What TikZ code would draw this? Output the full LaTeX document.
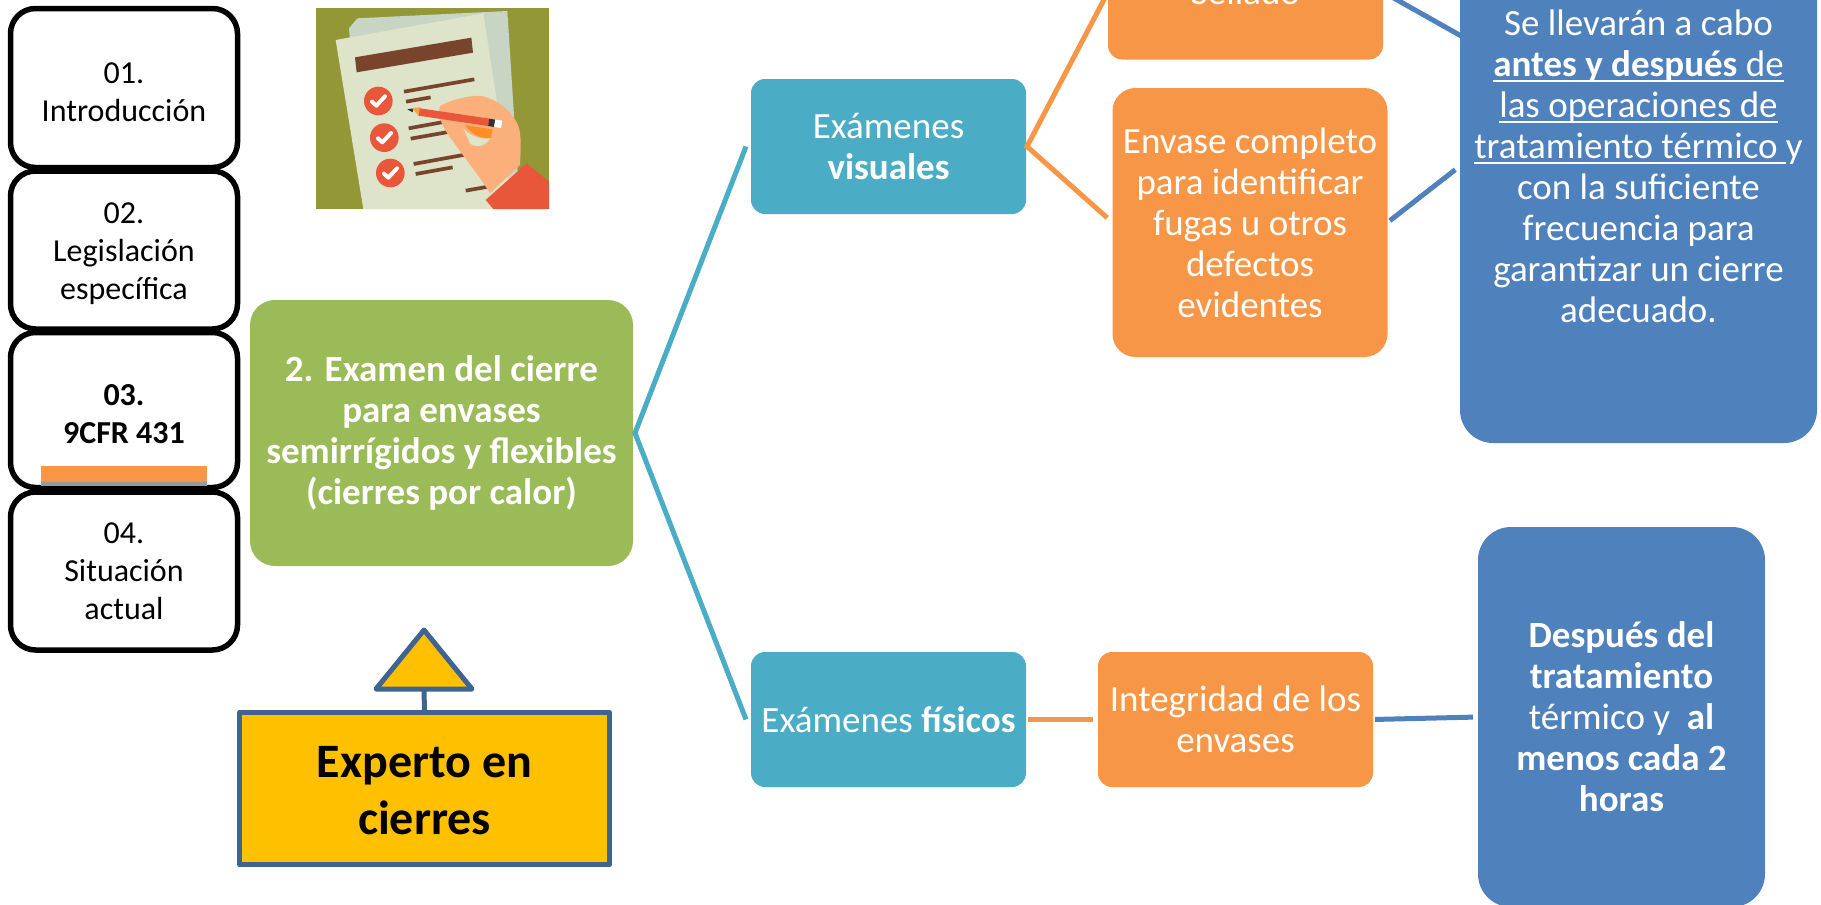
\documentclass[tikz,border=0pt]{standalone}
\usepackage{xcolor}
\usepackage{fontspec}
\setmainfont{Carlito}
\usetikzlibrary{positioning, shapes.geometric, shadows}

\definecolor{tealbox}{HTML}{4BACC6}
\definecolor{orangebox}{HTML}{F79646}
\definecolor{bluebox}{HTML}{4F81BD}
\definecolor{greenbox}{HTML}{9BBB59}
\definecolor{goldbox}{HTML}{FFC000}
\definecolor{steelline}{HTML}{3E6491}
\definecolor{olivebg}{HTML}{939736}
\definecolor{paperfront}{HTML}{DDE4CA}
\definecolor{paperback}{HTML}{C8D4C4}
\definecolor{inkbrown}{HTML}{78442B}
\definecolor{checkred}{HTML}{E9573A}
\definecolor{skintone}{HTML}{FBB07B}

\newcommand{\subrayado}[1]{\setbox0\hbox{#1}\rlap{\rule[-6pt]{\wd0}{1.8pt}}\box0}
\newcommand{\alto}[1]{\rule{0pt}{#1}}

\begin{document}
\begin{tikzpicture}[
  x=1pt, y=-1pt,
  menubox/.style={draw=black, line width=5.5pt, fill=white, rounded corners=25pt,
    minimum width=227pt, minimum height=158pt, align=center, inner sep=0pt,
    outer sep=0pt, font=\fontsize{32}{38}\selectfont},
  colorbox/.style={rounded corners=#1, align=center, inner sep=0pt, outer sep=0pt,
    text=white, font=\fontsize{37}{41}\selectfont},
  colorbox/.default=14pt,
  teal/.style={colorbox, fill=tealbox, minimum width=275pt, minimum height=135pt},
  orange/.style={colorbox, fill=orangebox, minimum width=275pt, minimum height=135pt},
  blue/.style={colorbox=33pt, fill=bluebox},
  tealarr/.style={draw=tealbox, line width=5pt},
  orangearr/.style={draw=orangebox, line width=5pt},
  bluearr/.style={draw=bluebox, line width=5pt},
  steel/.style={draw=steelline, line width=5pt, fill=goldbox, line join=round}
]
\useasboundingbox (0,0) rectangle (1821,905);
\clip (0,0) rectangle (1821,905);

% left menu
\node[menubox, minimum height=159pt] (intro) at (124,88) {\alto{29pt}01.\\Introducción};
\node[menubox, below=3.5pt of intro] (legis) {\alto{29pt}02.\\Legislación\\específica};
\node[menubox, below=3.5pt of legis, minimum height=155pt] (cfr)
  {\alto{29pt}\textbf{03.}\\\textbf{9CFR 431}};
\node[fill=orangebox, minimum width=166pt, minimum height=16pt, inner sep=0pt,
  drop shadow={shadow xshift=0pt, shadow yshift=-3.5pt, opacity=1, fill=black!40}]
  (marker) at (124,474) {};
\node[menubox, below=4.5pt of cfr] (actual) {04.\\Situación\\actual};

% checklist drawing
\begin{scope}[shift={(300,0)}, scale=1/3]
  \clip (48,24) rectangle (747,627);
  \fill[olivebg] (48,24) rectangle (747,627);
  \fill[paperback] (147,85) -- (172,55) -- (622,33) -- (660,627) -- (190,627) -- cycle;
  \fill[paperfront] (107,120) -- (550,40) -- (640,627) -- (190,627) -- cycle;
  \fill[inkbrown] (165,172) -- (514,113) -- (519,158) -- (170,217) -- cycle;
  \foreach \xa/\ya/\xb/\yb in {312/275/523/238, 318/305/392/292, 326/385/425/367,
      332/416/445/396, 341/492/495/464, 347/522/458/502, 497/572/570/559}
    \draw[inkbrown, line width=3.7pt] (\xa,\ya) -- (\xb,\yb);
  \foreach \cx/\cy in {235/303, 253/413, 271/519} {
    \fill[checkred] (\cx,\cy) circle (43);
    \draw[white, line width=4pt, line cap=round, line join=round]
      (\cx-19,\cy+2) -- (\cx-6,\cy+14) -- (\cx+20,\cy-14);
  }
  % hand and sleeve
  \fill[skintone] (420,318) .. controls (450,300) and (510,285) .. (545,288)
    .. controls (600,300) and (655,350) .. (660,400)
    .. controls (665,440) and (660,480) .. (660,495) -- (570,580)
    .. controls (540,530) and (490,470) .. (460,425)
    .. controls (435,395) and (410,350) .. (420,318) -- cycle;
  \fill[paperfront] (490,385) .. controls (520,420) and (570,420) .. (572,412)
    .. controls (560,440) and (525,445) .. (510,430) -- cycle;
  \fill[orange!70!skintone] (495,375) -- (578,388) -- (572,414) .. controls (540,415) and (515,405) .. (495,375) -- cycle;
  \fill[checkred] (557,600) -- (680,490) -- (747,545) -- (747,627) -- (580,627) -- cycle;
  % pencil
  \fill[black!80] (322,328) -- (340,325) -- (338,337) -- cycle;
  \fill[orange!40!skintone] (336,324) -- (362,322) -- (358,350) -- cycle;
  \draw[checkred, line width=7.5pt] (358,336) -- (566,367);
  \draw[black!80, line width=7.5pt] (566,367) -- (584,370);
  \draw[white, line width=7.5pt] (584,370) -- (605,373);
\end{scope}

% centre and right boxes
\node[colorbox=25pt, fill=greenbox, minimum width=383pt, minimum height=266pt,
  font=\fontsize{37}{41}\selectfont\bfseries] (examen) at (441.5,433)
  {2. Examen del cierre\\para envases\\semirrígidos y flexibles\\(cierres por calor)};
\node[teal] (visuales) at (888.5,146.5) {Exámenes\\\textbf{visuales}};
\node[teal] (fisicos) at (888.5,719.5) {Exámenes \textbf{físicos}};
\node[orange, right=72pt of fisicos] (integridad) {Integridad de los\\envases};
\node[orange] (sellado) at (1245.5,-8) {Sellado};
\node[orange, colorbox=23pt, minimum height=269pt] (envase) at (1250,222.5)
  {Envase completo\\para identificar\\fugas u otros\\defectos\\evidentes};
\node[blue, minimum width=357pt, minimum height=554pt] (frecuencia) at (1638.5,166)
  {Se llevarán a cabo\\
   \subrayado{\textbf{antes y después} de}\\
   \subrayado{las operaciones de}\\
   \subrayado{tratamiento térmico }y\\
   con la suficiente\\frecuencia para\\garantizar un cierre\\adecuado.};
\node[blue, minimum width=287pt, minimum height=380pt] (horas) at (1621.5,717)
  {\textbf{Después del}\\\textbf{tratamiento}\\térmico y\ \ \textbf{al}\\
   \textbf{menos cada 2}\\\textbf{horas}};

% expert callout
\node[steel, minimum width=369.5pt, minimum height=152.5pt, inner sep=0pt,
  outer sep=0pt, align=center, font=\fontsize{48}{57}\selectfont\bfseries]
  (experto) at (424.5,788.5) {\alto{36pt}Experto en\\cierres};
\node[steel, isosceles triangle, shape border rotate=90, isosceles triangle stretches,
  minimum width=96pt, minimum height=59pt, inner sep=0pt, outer sep=0pt,
  anchor=lower side] (flecha) at (424,689) {};

% connectors
\coordinate[right=2pt of examen.east] (examenpunto);
\coordinate[left=5pt of visuales.west] (visualesfin);
\coordinate[left=5pt of fisicos.west] (fisicosfin);
\coordinate[right=1pt of visuales.east] (visualespunto);
\coordinate (selladoend) at (1463,37);
\draw[steelline, line width=5pt] (experto.north) -- (flecha.lower side);
\draw[tealarr] (visualesfin) -- (examenpunto) -- (fisicosfin);
\draw[orangearr, shorten >=7pt] (sellado.west) -- (visualespunto) -- (envase.west);
\draw[orangearr, shorten <=2pt, shorten >=5pt] (fisicos.east) -- (integridad.west);
\draw[bluearr] (sellado.east) -- (selladoend);
\draw[bluearr, shorten <=3pt, shorten >=6pt] (envase.east) -- (frecuencia.west);
\draw[bluearr, shorten <=2pt, shorten >=5pt] (integridad.east) -- (horas.west);
\end{tikzpicture}
\end{document}
